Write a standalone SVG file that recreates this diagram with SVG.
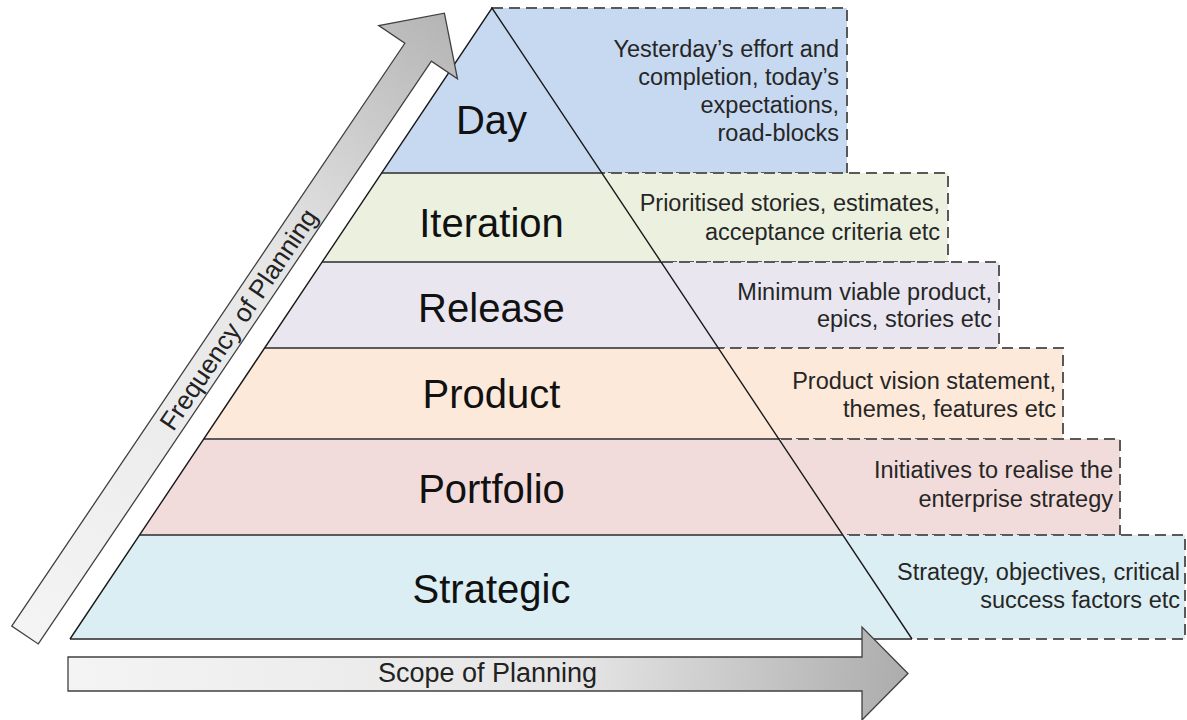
<svg xmlns="http://www.w3.org/2000/svg" width="1187" height="720" viewBox="0 0 1187 720">
<defs>
<style>
.box{stroke:#595959;stroke-width:2;stroke-dasharray:11 6;}
.lay{stroke:none;}
.sep{stroke:#5a5a5a;stroke-width:2;fill:none;}
.edge{stroke:#1a1a1a;stroke-width:1.4;fill:none;}
.lbl{font-family:"Liberation Sans",Arial,sans-serif;font-size:40px;fill:#111;text-anchor:middle;}
.desc{font-family:"Liberation Sans",Arial,sans-serif;font-size:23.5px;fill:#262626;text-anchor:end;}
.arr{stroke:#404040;stroke-width:1.3;}
.atxt{font-family:"Liberation Sans",Arial,sans-serif;font-size:26px;fill:#222;text-anchor:middle;}
</style>
<linearGradient id="gFreq" gradientUnits="userSpaceOnUse" x1="0" y1="-16" x2="750" y2="48">
<stop offset="0" stop-color="#f4f4f4"/>
<stop offset="0.6" stop-color="#e6e6e6"/>
<stop offset="1" stop-color="#b4b4b4"/>
</linearGradient>
<linearGradient id="gScope" gradientUnits="userSpaceOnUse" x1="68" y1="650" x2="905" y2="720">
<stop offset="0" stop-color="#f4f4f4"/>
<stop offset="0.6" stop-color="#e6e6e6"/>
<stop offset="1" stop-color="#acacac"/>
</linearGradient>
</defs>
<rect x="0" y="0" width="1187" height="720" fill="#ffffff"/>

<g id="layer-day">
<rect class="box" x="492" y="8" width="355" height="165" fill="#c6d9f1"/>
<polygon class="lay" points="492,8 601.8,173 381.6,173" fill="#c6d9f1"/>
<text class="lbl" x="491.5" y="134">Day</text>
<text class="desc" x="839" y="57">Yesterday’s effort and</text>
<text class="desc" x="839" y="85">completion, today’s</text>
<text class="desc" x="839" y="113">expectations,</text>
<text class="desc" x="839" y="141">road-blocks</text>
</g>

<g id="layer-iteration">
<rect class="box" x="492" y="173" width="456" height="89" fill="#ebf1de"/>
<polygon class="lay" points="381.6,173 601.8,173 661.1,262 322.1,262" fill="#ebf1de"/>
<text class="lbl" x="491.5" y="237">Iteration</text>
<text class="desc" x="940" y="211">Prioritised stories, estimates,</text>
<text class="desc" x="940" y="240">acceptance criteria etc</text>
</g>

<g id="layer-release">
<rect class="box" x="492" y="262" width="507" height="86" fill="#e9e6f0"/>
<polygon class="lay" points="322.1,262 661.1,262 718.3,348 264.6,348" fill="#e9e6f0"/>
<text class="lbl" x="491.5" y="322">Release</text>
<text class="desc" x="992" y="300">Minimum viable product,</text>
<text class="desc" x="992" y="327">epics, stories etc</text>
</g>

<g id="layer-product">
<rect class="box" x="492" y="348" width="571" height="91" fill="#fde9d9"/>
<polygon class="lay" points="264.6,348 718.3,348 778.9,439 203.8,439" fill="#fde9d9"/>
<text class="lbl" x="491.5" y="408">Product</text>
<text class="desc" x="1056" y="389">Product vision statement,</text>
<text class="desc" x="1056" y="417">themes, features etc</text>
</g>

<g id="layer-portfolio">
<rect class="box" x="492" y="439" width="628" height="96" fill="#f2dcdb"/>
<polygon class="lay" points="203.8,439 778.9,439 842.8,535 139.6,535" fill="#f2dcdb"/>
<text class="lbl" x="491.5" y="503">Portfolio</text>
<text class="desc" x="1113" y="478">Initiatives to realise the</text>
<text class="desc" x="1113" y="507">enterprise strategy</text>
</g>

<g id="layer-strategic">
<rect class="box" x="492" y="535" width="693" height="104" fill="#dbeef3"/>
<polygon class="lay" points="139.6,535 842.8,535 912,639 70,639" fill="#dbeef3"/>
<text class="lbl" x="491.5" y="603">Strategic</text>
<text class="desc" x="1180" y="580">Strategy, objectives, critical</text>
<text class="desc" x="1180" y="608">success factors etc</text>
</g>

<g id="pyramid-outline">
<line class="sep" x1="381.6" y1="173" x2="601.8" y2="173"/>
<line class="sep" x1="322.1" y1="262" x2="661.1" y2="262"/>
<line class="sep" x1="264.6" y1="348" x2="718.3" y2="348"/>
<line class="sep" x1="203.8" y1="439" x2="778.9" y2="439"/>
<line class="sep" x1="139.6" y1="535" x2="842.8" y2="535"/>
<line class="sep" x1="70" y1="639" x2="912" y2="639"/>
<polyline class="edge" points="70,639 492,8 912,639"/>
</g>

<g id="connectors">
<g id="arrow-frequency" transform="translate(25,635) rotate(-56)">
<polygon class="arr" fill="url(#gFreq)" points="0,-16 703,-16 703,-47.5 750,0 703,47.5 703,16 0,16"/>
<text class="atxt" x="381" y="9.5">Frequency of Planning</text>
</g>
<g id="arrow-scope">
<polygon class="arr" fill="url(#gScope)" points="68,657 862,657 862,627 908,673.5 862,720 862,691 68,691"/>
<text class="atxt" x="487.5" y="682" style="font-size:27px">Scope of Planning</text>
</g>
</g>
</svg>
